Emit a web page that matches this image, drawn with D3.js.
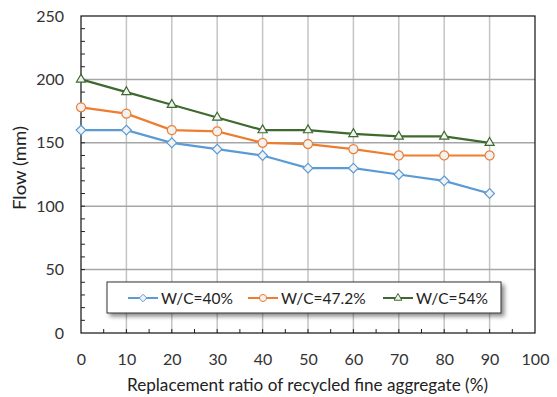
<!DOCTYPE html>
<html><head><meta charset="utf-8">
<script src="https://cdn.jsdelivr.net/npm/d3@7/dist/d3.min.js"></script>
<style>body{margin:0;background:#fff}svg{display:block;font-family:Lato,"Open Sans",sans-serif}</style>
</head><body><svg id="c" width="557" height="397"></svg>
<script>
const ratios = [0,10,20,30,40,50,60,70,80,90];
const wc40 = [160,160,150,145,140,130,130,125,120,110];
const wc472 = [178,173,160,159,150,149,145,140,140,140];
const wc54 = [200,190,180,170,160,160,157,155,155,150];
const seriesNames = ["W/C=40%","W/C=47.2%","W/C=54%"];
const xTicks = [0,10,20,30,40,50,60,70,80,90,100];
const yTicks = [0,50,100,150,200,250];

const colors = ["#5b9bd5","#ed7d31","#3e6a2f"];
const symbols = [d3.symbolDiamond2 || d3.symbolDiamond, d3.symbolCircle, d3.symbolTriangle];
const series = [wc40, wc472, wc54];

const svg = d3.select("#c");
const L=81, R=535, T=16, B=333;
const x = d3.scaleLinear().domain([0,100]).range([L,R]);
const y = d3.scaleLinear().domain([0,250]).range([B,T]);

// grid
svg.append("g").selectAll("line").data(xTicks.slice(1,-1)).join("line")
  .attr("x1",d=>x(d)).attr("x2",d=>x(d)).attr("y1",T).attr("y2",B)
  .attr("stroke","#c4c4c4").attr("stroke-width",1.5);
svg.append("g").selectAll("line").data(yTicks.slice(1,-1)).join("line")
  .attr("y1",d=>y(d)).attr("y2",d=>y(d)).attr("x1",L).attr("x2",R)
  .attr("stroke","#a6a6a6").attr("stroke-width",1.5);

// minor ticks
svg.append("g").selectAll("line").data(d3.range(10,250,10)).join("line")
  .attr("x1",L).attr("x2",L+4).attr("y1",d=>y(d)).attr("y2",d=>y(d)).attr("stroke","#222");
svg.append("g").selectAll("line").data(d3.range(5,100,5)).join("line")
  .attr("y1",B).attr("y2",B-4).attr("x1",d=>x(d)).attr("x2",d=>x(d)).attr("stroke","#222");

// border
svg.append("rect").attr("x",L).attr("y",T).attr("width",R-L).attr("height",B-T)
  .attr("fill","none").attr("stroke","#111").attr("stroke-width",1.2);

// axes labels
const xa = svg.append("g").attr("transform",`translate(0,${B})`)
  .call(d3.axisBottom(x).tickValues(xTicks).tickSize(0).tickPadding(21));
xa.select(".domain").remove();
xa.selectAll("text").attr("font-size",16).attr("fill","#333").attr("font-family","Lato,sans-serif");
const ya = svg.append("g").attr("transform",`translate(${L},0)`)
  .call(d3.axisLeft(y).tickValues(yTicks).tickSize(0).tickPadding(17));
ya.select(".domain").remove();
ya.selectAll("text").attr("font-size",16).attr("fill","#333").attr("font-family","Lato,sans-serif");

svg.append("text").attr("x",(127+488)/2).attr("y",391).attr("text-anchor","middle")
  .attr("font-size",16.5).attr("fill","#222").attr("textLength",361).attr("lengthAdjust","spacingAndGlyphs")
  .text("Replacement ratio of recycled fine aggregate (%)");
svg.append("text").attr("transform",`translate(26,168) rotate(-90)`).attr("text-anchor","middle")
  .attr("font-size",17).attr("fill","#222").attr("textLength",84).attr("lengthAdjust","spacingAndGlyphs")
  .text("Flow (mm)");

// lines
const line = d3.line().x((d,i)=>x(ratios[i])).y(d=>y(d));
const sizes=[60,64,36];
series.forEach((s,k)=>{
  svg.append("path").datum(s).attr("d",line).attr("fill","none")
    .attr("stroke",colors[k]).attr("stroke-width",2.2);
  svg.append("g").selectAll("path").data(s).join("path")
    .attr("transform",(d,i)=>`translate(${x(ratios[i])},${y(d)})`)
    .attr("d",d3.symbol().type(symbols[k]).size(sizes[k]))
    .attr("fill","#f2f2f2").attr("stroke",colors[k]).attr("stroke-width",1.2);
});

// legend
const defs = svg.append("defs");
const f = defs.append("filter").attr("id","sh").attr("x","-10%").attr("y","-30%").attr("width","130%").attr("height","180%");
f.append("feDropShadow").attr("dx",3).attr("dy",3).attr("stdDeviation",2).attr("flood-color","#000").attr("flood-opacity",0.45);
svg.append("rect").attr("x",107).attr("y",282).attr("width",394).attr("height",31)
  .attr("fill","#fff").attr("stroke","#333").attr("stroke-width",1).attr("filter","url(#sh)");
const lx = [128,248,383];
const ly = 298;
seriesNames.forEach((n,k)=>{
  svg.append("line").attr("x1",lx[k]).attr("x2",lx[k]+30).attr("y1",ly).attr("y2",ly)
    .attr("stroke",colors[k]).attr("stroke-width",2);
  svg.append("path").attr("transform",`translate(${lx[k]+15},${ly})`)
    .attr("d",d3.symbol().type(symbols[k]).size([36,40,26][k]))
    .attr("fill","#f2f2f2").attr("stroke",colors[k]).attr("stroke-width",1);
  svg.append("text").attr("x",lx[k]+33).attr("y",ly+5.5).attr("font-size",15.5).attr("fill","#222").text(n);
});
</script></body></html>
